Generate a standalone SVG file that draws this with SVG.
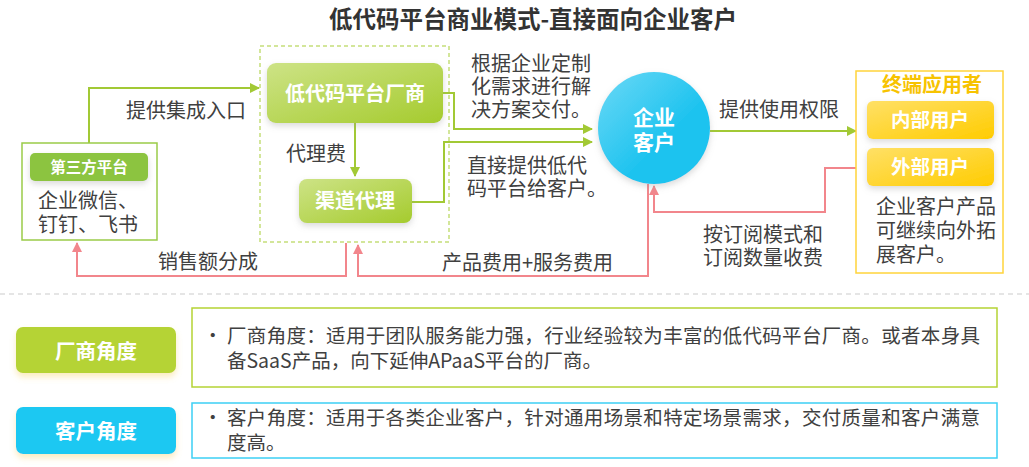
<svg xmlns="http://www.w3.org/2000/svg" width="1029" height="467" viewBox="0 0 1029 467">
<style>
text{font-family:"Noto Sans CJK SC","Noto Sans",sans-serif;fill:#404040}
.t{font-size:20px}
.b{font-size:19.5px}
.w{fill:#fff;font-weight:bold}
.y{fill:#F7C300;font-weight:bold}
.h{fill:#333;font-weight:bold}
.g{fill:none;stroke:#A2C935;stroke-width:2}
.p{fill:none;stroke:#F2868C;stroke-width:2}
</style>
<defs>
<marker id="ag" markerWidth="10" markerHeight="10" refX="9" refY="5" orient="auto" markerUnits="userSpaceOnUse"><path d="M0,0L10,5L0,10z" fill="#A2C935"/></marker>
<marker id="ap" markerWidth="10" markerHeight="10" refX="9" refY="5" orient="auto" markerUnits="userSpaceOnUse"><path d="M0,0L10,5L0,10z" fill="#F2868C"/></marker>
<linearGradient id="gg" x1="0" y1="0" x2="1" y2="1"><stop offset="0" stop-color="#CDE386"/><stop offset="1" stop-color="#A5CB2E"/></linearGradient>
<linearGradient id="gy" x1="0" y1="0" x2="1" y2="1"><stop offset="0" stop-color="#FFE066"/><stop offset="1" stop-color="#FFCC00"/></linearGradient>
<linearGradient id="gb" x1="0" y1="0" x2="1" y2="1"><stop offset="0" stop-color="#6CD9F6"/><stop offset="0.6" stop-color="#1EC3EF"/></linearGradient>
<filter id="sh" x="-20%" y="-20%" width="140%" height="160%"><feDropShadow dx="0" dy="3" stdDeviation="3" flood-color="#999" flood-opacity="0.35"/></filter>
<filter id="shy" x="-20%" y="-20%" width="140%" height="160%"><feDropShadow dx="0" dy="4" stdDeviation="3" flood-color="#F5D060" flood-opacity="0.4"/></filter>
</defs>

<text x="533" y="28" text-anchor="middle" font-size="23.5" class="h">低代码平台商业模式-直接面向企业客户</text>

<g id="connectors">
<path class="g" d="M89,143V88H259" marker-end="url(#ag)"/>
<path class="g" d="M355,123V176" marker-end="url(#ag)"/>
<path class="g" d="M443,93H454V129H592" marker-end="url(#ag)"/>
<path class="g" d="M412,202H444V142H592" marker-end="url(#ag)"/>
<path class="g" d="M710,131H856" marker-end="url(#ag)"/>
<path class="p" d="M346,243V276H77V243" marker-end="url(#ap)"/>
<path class="p" d="M648,184V276H358V245" marker-end="url(#ap)"/>
<path class="p" d="M867,168H825V212H654V186" marker-end="url(#ap)"/>
<text class="t" x="126" y="118">提供集成入口</text>
<text class="t" x="158" y="269">销售额分成</text>
<text class="t" x="286" y="161">代理费</text>
<text class="t"><tspan x="471" y="71">根据企业定制</tspan><tspan x="471" y="94">化需求进行解</tspan><tspan x="471" y="117">决方案交付。</tspan></text>
<text class="t"><tspan x="467" y="173">直接提供低代</tspan><tspan x="467" y="196">码平台给客户。</tspan></text>
<text class="t" x="442" y="270">产品费用+服务费用</text>
<text class="t" x="719" y="117">提供使用权限</text>
<text class="t"><tspan x="703" y="242">按订阅模式和</tspan><tspan x="703" y="265">订阅数量收费</tspan></text>
</g>

<g id="third-party">
<rect x="22" y="143" width="135" height="97" fill="#fff" stroke="#9ACB48" stroke-width="1.5"/>
<rect x="30" y="153" width="118" height="28" rx="5" fill="#8CC43F" filter="url(#sh)"/>
<text x="89" y="173" text-anchor="middle" font-size="15.5" class="w">第三方平台</text>
<text class="t"><tspan x="38" y="208">企业微信、</tspan><tspan x="38" y="232">钉钉、飞书</tspan></text>
</g>

<g id="vendor-group">
<rect x="260" y="46" width="189" height="196" fill="none" stroke="#C5DE7A" stroke-width="1.5" stroke-dasharray="4,3"/>
</g>

<g id="vendor">
<rect x="267" y="63" width="176" height="60" rx="9" fill="url(#gg)" filter="url(#sh)"/>
<text x="355" y="101" text-anchor="middle" font-size="20" class="w">低代码平台厂商</text>
</g>

<g id="agent">
<rect x="299" y="179" width="113" height="44" rx="8" fill="url(#gg)" filter="url(#sh)"/>
<text x="355" y="208" text-anchor="middle" font-size="20" class="w">渠道代理</text>
</g>

<g id="customer">
<circle cx="654" cy="128" r="56" fill="url(#gb)" filter="url(#sh)"/>
<text text-anchor="middle" font-size="21" class="w"><tspan x="654" y="125">企业</tspan><tspan x="654" y="150">客户</tspan></text>
</g>

<g id="end-users">
<rect x="856" y="71" width="147" height="202" fill="#fff" stroke="#FFD43B" stroke-width="1.5"/>
<text x="932" y="92" text-anchor="middle" font-size="20" class="y">终端应用者</text>
</g>

<g id="internal">
<rect x="867" y="101" width="127" height="38" rx="6" fill="url(#gy)" filter="url(#sh)"/>
<text x="930" y="127" text-anchor="middle" font-size="19.5" class="w">内部用户</text>
</g>

<g id="external">
<rect x="867" y="148" width="127" height="38" rx="6" fill="url(#gy)" filter="url(#sh)"/>
<text x="930" y="174" text-anchor="middle" font-size="19.5" class="w">外部用户</text>
<text class="t"><tspan x="876" y="214">企业客户产品</tspan><tspan x="876" y="238">可继续向外拓</tspan><tspan x="876" y="262">展客户。</tspan></text>
</g>

<line x1="0" y1="294" x2="1029" y2="294" stroke="#DDDDDD" stroke-width="1.5" stroke-dasharray="5,4"/>

<g id="vendor-view">
<rect x="16" y="327" width="160" height="46" rx="7" fill="#B5D334" filter="url(#shy)"/>
<text x="96" y="359" text-anchor="middle" font-size="20.5" class="w">厂商角度</text>
<rect x="192" y="308" width="805" height="79" fill="#fff" stroke="#B5D334" stroke-width="1.5"/>
<text class="b" x="203" y="343">•</text>
<text class="b"><tspan x="227" y="343" textLength="753" lengthAdjust="spacing">厂商角度：适用于团队服务能力强，行业经验较为丰富的低代码平台厂商。或者本身具</tspan><tspan x="227" y="368">备SaaS产品，向下延伸APaaS平台的厂商。</tspan></text>
</g>

<g id="customer-view">
<rect x="16" y="407" width="160" height="47" rx="7" fill="#1FC8F2" filter="url(#shy)"/>
<text x="96" y="439" text-anchor="middle" font-size="20.5" class="w">客户角度</text>
<rect x="192" y="403" width="805" height="55" fill="#fff" stroke="#3DD0F5" stroke-width="1.5"/>
<text class="b" x="203" y="425">•</text>
<text class="b"><tspan x="227" y="425" textLength="753" lengthAdjust="spacing">客户角度：适用于各类企业客户，针对通用场景和特定场景需求，交付质量和客户满意</tspan><tspan x="227" y="450">度高。</tspan></text>
</g>
</svg>
